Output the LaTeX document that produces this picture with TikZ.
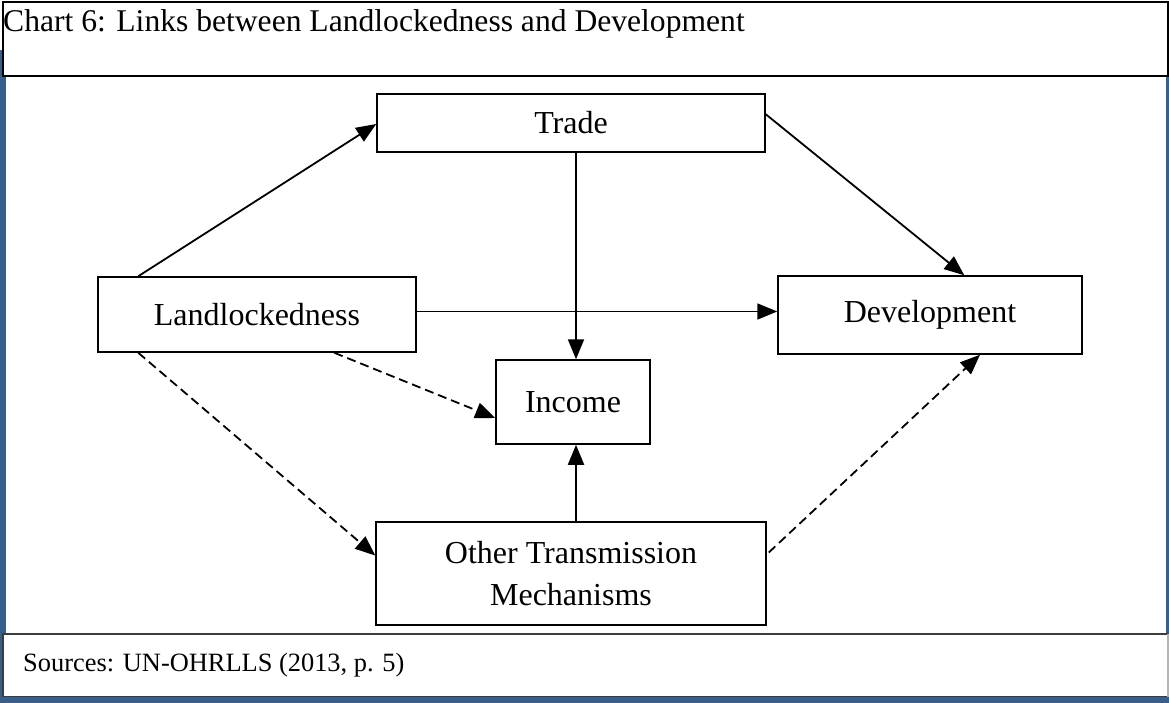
\documentclass[tikz,border=0pt]{standalone}
\usepackage{fontspec}
\setmainfont{Liberation Serif}
\usetikzlibrary{arrows.meta,calc}
\definecolor{frameblue}{RGB}{58,94,138}
\definecolor{edgegray}{RGB}{60,60,60}
\definecolor{lightedge}{RGB}{180,180,180}
\begin{document}
\begin{tikzpicture}[x=1pt,y=-1pt,
  box/.style={draw=black,line width=1.5pt,fill=white,inner sep=0pt,align=center,
    font=\fontsize{32}{42}\selectfont},
  link/.style={line width=1.8pt,-{Triangle[length=20pt,width=16pt]}},
  dlink/.style={link,dash pattern=on 9pt off 5pt}]
\useasboundingbox (0,0) rectangle (1169,703);
\fill[white] (0,0) rectangle (1169,703);
% blue outer frame
\fill[frameblue] (0,50) rectangle (1169,703);
\fill[white] (5.5,50) rectangle (1165.5,697);
% title box
\draw[line width=2pt,fill=white] (2.5,2) rectangle (1167.5,76.5);
\node[anchor=base west,inner sep=0pt,font=\fontsize{31.6}{36}\selectfont] (title) at (3,32)
  {Chart 6: Links between Landlockedness and Development};
% sources box
\fill[white] (3,634) rectangle (1168,696.5);
\draw[edgegray,line width=1.5pt] (1168,634) -- (3,634) -- (3,696.5) -- (1168,696.5);
\draw[lightedge,line width=1.2pt] (1168,634) -- (1168,696.5);
\node[anchor=base west,inner sep=0pt,font=\fontsize{26.4}{30}\selectfont] (src) at (23,671)
  {Sources: UN-OHRLLS (2013, p. 5)};
% nodes
\node[box,minimum width=388pt,minimum height=58pt] (trade) at (571,123) {Trade};
\node[box,minimum width=318pt,minimum height=75pt] (land) at (257,314.5) {Landlockedness};
\node[box,minimum width=304pt,minimum height=78pt] (dev) at (930,315) {Development};
\node[box,minimum width=154pt,minimum height=84pt] (inc) at (573,402) {Income};
\node[box,minimum width=390pt,minimum height=103pt] (otm) at (571,573.5) {Other Transmission\\Mechanisms};
% connectors
\draw[link] ([xshift=41pt]land.north west) -- ([yshift=-1pt]trade.west);
\draw[link] ([yshift=-21pt]trade.north east) -- ([xshift=187pt]dev.north west);
\draw[link] ([yshift=3pt]land.east) -- ([yshift=3pt]land.east -| dev.west);
\draw[link] ([xshift=5pt]trade.south) -- ([xshift=5pt]trade.south |- inc.north);
\draw[dlink] ([xshift=237pt]land.south west) -- ([yshift=-16pt]inc.west);
\draw[dlink] ([xshift=41pt]land.south west) -- ([yshift=18pt]otm.west);
\draw[link] ([xshift=5pt]otm.north) -- ([xshift=5pt]otm.north |- inc.south);
\draw[dlink] ([xshift=2pt,yshift=21pt]otm.east) -- ([xshift=50pt]dev.south);
\end{tikzpicture}
\end{document}
